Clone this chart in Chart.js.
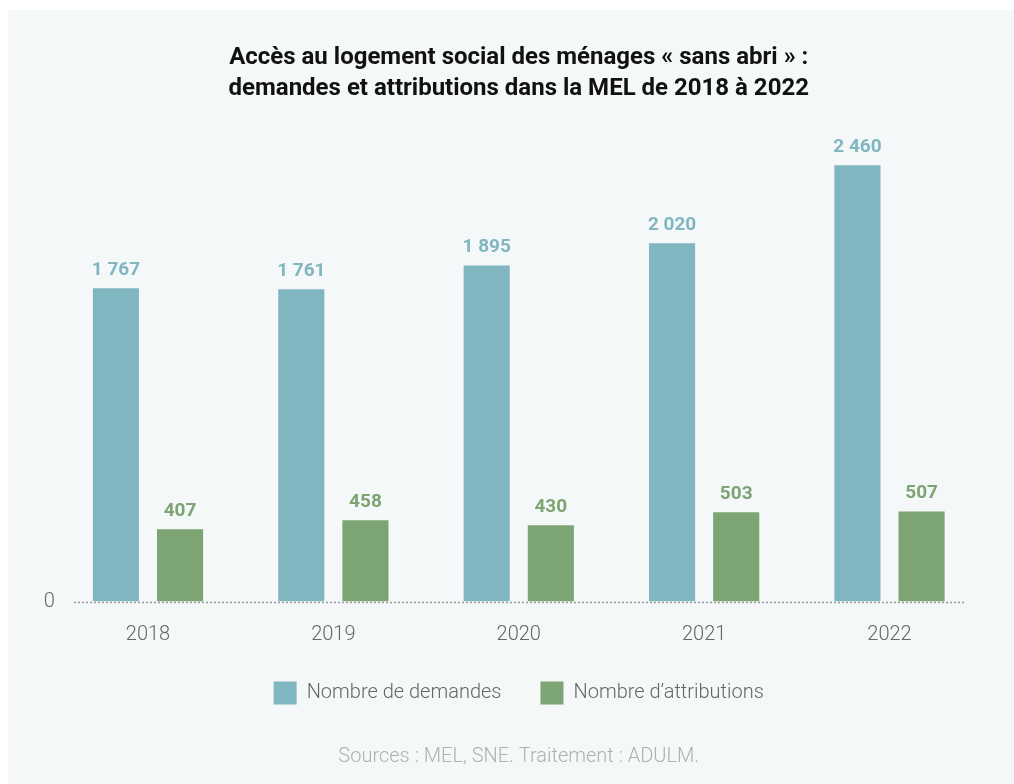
<!DOCTYPE html>
<html lang="fr">
<head>
<meta charset="utf-8">
<title>Accès au logement social des ménages « sans abri »</title>
<script src="https://cdn.jsdelivr.net/npm/chart.js@4/dist/chart.umd.min.js"></script>
<style>
  html, body { margin: 0; padding: 0; background: #ffffff; }
  body { width: 1014px; height: 784px; position: relative; overflow: hidden; }
  #panel { position: absolute; left: 8px; top: 10px; width: 1006px; height: 774px; background: #f5f8f9; }
  #chart { position: absolute; left: 14px; top: 0; }
</style>
</head>
<body>
<div id="panel">
  <canvas id="chart" width="992" height="774"></canvas>
</div>
<script>
// données
var annees = ['2018', '2019', '2020', '2021', '2022'];
var demandes = [1767, 1761, 1895, 2020, 2460];
var attributions = [407, 458, 430, 503, 507];
var series = ['Nombre de demandes', 'Nombre d\u2019attributions'];
var couleurs = ['#80b6c0', '#7da473'];
var titre = ['Accès au logement social des ménages « sans abri » :',
             'demandes et attributions dans la MEL de 2018 à 2022'];
var source = 'Sources : MEL, SNE. Traitement : ADULM.';

// 1767 -> "1 767"
function formatNombre(v) {
    return String(v).replace(/\B(?=(\d{3})+(?!\d))/g, ' ');
}

// ligne pointillée du zéro, sous les barres
var ligneZero = {
    id: 'ligneZero',
    beforeDatasetsDraw: function(chart) {
        var ctx = chart.ctx;
        var area = chart.chartArea;
        var y = Math.round(chart.scales.y.getPixelForValue(0)) + 0.5;
        ctx.save();
        ctx.strokeStyle = '#7a7a7a';
        ctx.lineWidth = 1.5;
        ctx.setLineDash([1.5, 2.5]);
        ctx.beginPath();
        ctx.moveTo(area.left + 19, y);
        ctx.lineTo(area.right - 18, y);
        ctx.stroke();
        ctx.restore();
    }
};

// valeurs au-dessus des barres
var etiquettes = {
    id: 'etiquettes',
    afterDatasetsDraw: function(chart) {
        var ctx = chart.ctx;
        ctx.save();
        ctx.font = 'bold 19px Roboto';
        ctx.textAlign = 'center';
        ctx.textBaseline = 'middle';
        chart.data.datasets.forEach(function(ds, i) {
            var meta = chart.getDatasetMeta(i);
            ctx.fillStyle = ds.backgroundColor;
            meta.data.forEach(function(bar, j) {
                ctx.fillText(formatNombre(ds.data[j]), bar.x, bar.y - 18);
            });
        });
        ctx.restore();
    }
};

var ctx = document.getElementById('chart').getContext('2d');
var graphique = new Chart(ctx, {
    type: 'bar',
    data: {
        labels: annees,
        datasets: [
            { label: series[0], data: demandes, backgroundColor: couleurs[0], borderWidth: 0 },
            { label: series[1], data: attributions, backgroundColor: couleurs[1], borderWidth: 0 },
        ],
    },
    options: {
        responsive: false,
        devicePixelRatio: 1,
        animation: false,
        categoryPercentage: 0.692,
        barPercentage: 0.719,
        layout: {
            padding: { left: 33.3, right: 31.8, top: 0, bottom: 0 },
        },
        scales: {
            x: {
                grid: { display: false, drawTicks: false },
                border: { display: false },
                ticks: {
                    color: '#666666',
                    padding: 21,
                    font: { family: 'Roboto', size: 20, weight: '300' },
                },
                afterFit: function(axis) {
                    axis.height -= 25; // rapproche la légende des années
                },
            },
            y: {
                min: 0,
                max: 2600,
                grid: { display: false, drawTicks: false },
                border: { display: false },
                afterBuildTicks: function(axis) {
                    axis.ticks = [{ value: 0 }]; // seul le zéro est affiché
                },
                afterFit: function(axis) {
                    axis.width = 0; // le « 0 » déborde dans la marge
                },
                ticks: {
                    mirror: true,
                    padding: -11.5,
                    color: '#666666',
                    font: { family: 'Roboto', size: 20, weight: '300' },
                },
            },
        },
        plugins: {
            title: {
                display: true,
                text: titre,
                color: '#111111',
                font: { family: 'Roboto', size: 24, weight: 'bold', lineHeight: 1.29 },
                padding: { top: 33, bottom: 35.5 },
            },
            subtitle: {
                display: true,
                position: 'bottom',
                text: source,
                color: '#b0b0b0',
                font: { family: 'Roboto', size: 20, weight: '300' },
                padding: { top: 30.5, bottom: 15 },
            },
            legend: {
                position: 'bottom',
                labels: {
                    boxWidth: 23,
                    boxHeight: 23,
                    padding: 39,
                    color: '#666666',
                    font: { family: 'Roboto', size: 20, weight: '300' },
                },
            },
            tooltip: { enabled: false },
        },
    },
    plugins: [ligneZero, etiquettes],
});
</script>
</body>
</html>
